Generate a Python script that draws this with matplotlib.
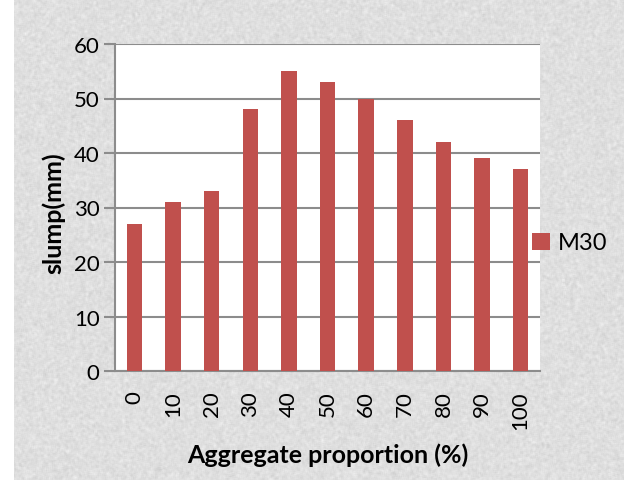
import numpy as np
import matplotlib.pyplot as plt

# slump test results, M30 mix
proportions = ['0', '10', '20', '30', '40', '50', '60', '70', '80', '90', '100']
slump_m30 = [27, 31, 33, 48, 55, 53, 50, 46, 42, 39, 37]

W, H = 624, 481
fig = plt.figure(figsize=(W / 100, H / 100), dpi=100)

# granite-like paper texture behind the chart (decoration only)
rng = np.random.default_rng(3)
tex = rng.normal(0, 1, (H, W))
k = np.ones(3) / 3
tex = np.apply_along_axis(lambda r: np.convolve(r, k, mode='same'), 1, tex)
tex = np.apply_along_axis(lambda c: np.convolve(c, k, mode='same'), 0, tex)
tex = 0.875 + 0.045 * tex
tex[:, :14] = 1.0
tex = np.clip(tex, 0, 1)
bg = fig.add_axes([0, 0, 1, 1])
bg.imshow(np.dstack([tex, tex, tex]), aspect='auto', interpolation='nearest')
bg.set_axis_off()

# plot box in pixels: left 115, right 540, top 45, bottom 372
L, R, T, B = 115, 540, 45, 372
ax = fig.add_axes([L / W, 1 - B / H, (R - L) / W, (B - T) / H])
ax.set_facecolor('white')
x = np.arange(len(proportions))
ax.bar(x, slump_m30, width=0.4, color='#C0504D', label='M30', zorder=3)

ax.set_xlim(-0.5, len(proportions) - 0.5)
ax.set_ylim(0, 60)
ax.set_yticks(range(0, 61, 10))
ax.set_xticks(x)
ax.set_xticklabels(proportions, rotation=90)
ax.yaxis.grid(True, color='#8c8c8c', linewidth=1.5, zorder=1)

for s in ['top', 'right']:
    ax.spines[s].set_visible(False)
ax.spines['left'].set_color('#8c8c8c')
ax.spines['left'].set_linewidth(1.5)
ax.spines['bottom'].set_color('#8c8c8c')
ax.spines['bottom'].set_linewidth(1.5)
ax.tick_params(axis='y', length=8, width=1.5, color='#8c8c8c', labelsize=16, pad=3)
ax.tick_params(axis='x', length=0, labelsize=16, pad=14)
for lab in ax.get_xticklabels() + ax.get_yticklabels():
    lab.set_fontfamily('Lato')

ax.set_xlabel('Aggregate proportion (%)', fontsize=18, fontweight='bold',
              fontfamily='Lato', va='center')
ax.xaxis.set_label_coords(0.5, (B - 455) / (B - T))
ax.set_ylabel('slump(mm)', fontsize=18, fontweight='bold',
              fontfamily='Lato', va='center')
ax.yaxis.set_label_coords((54 - L) / (R - L), (B - 213) / (B - T))

leg = ax.legend(loc='center left', bbox_to_anchor=((532 - L) / (R - L), (B - 244) / (B - T)),
                frameon=False, borderpad=0, borderaxespad=0,
                handlelength=0.75, handleheight=0.75, handletextpad=0.35,
                prop={'family': 'Lato', 'size': 17})

fig.savefig('out.png', dpi=100)
